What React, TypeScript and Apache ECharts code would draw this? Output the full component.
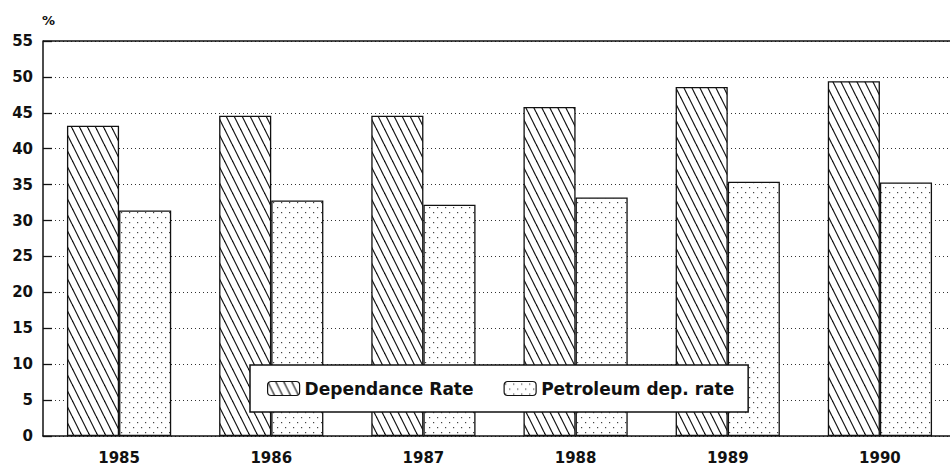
import React, { useEffect, useRef } from "react";
import * as echarts from "echarts";

const years = ["1985", "1986", "1987", "1988", "1989", "1990"];
const dependanceRate = [43.2, 44.6, 44.6, 45.8, 48.6, 49.4];
const petroleumRate = [31.4, 32.8, 32.2, 33.2, 35.4, 35.3];
const yTicks = { min: 0, max: 55, interval: 5 };
const seriesNames = ["Dependance Rate", "Petroleum dep. rate"];

function hatchCanvas(): HTMLCanvasElement {
  const s = 8, k = 2;
  const c = document.createElement("canvas");
  c.width = s;
  c.height = s * k;
  const ctx = c.getContext("2d")!;
  ctx.fillStyle = "#ffffff";
  ctx.fillRect(0, 0, c.width, c.height);
  ctx.strokeStyle = "#111111";
  ctx.lineWidth = 1.2;
  for (const off of [-s, 0, s]) {
    ctx.beginPath();
    ctx.moveTo(off, 0);
    ctx.lineTo(off + s, s * k);
    ctx.stroke();
  }
  return c;
}

function dotCanvas(): HTMLCanvasElement {
  const c = document.createElement("canvas");
  c.width = 8;
  c.height = 10;
  const ctx = c.getContext("2d")!;
  ctx.fillStyle = "#ffffff";
  ctx.fillRect(0, 0, c.width, c.height);
  ctx.fillStyle = "#444444";
  ctx.fillRect(1, 2, 1.2, 1.2);
  ctx.fillRect(5, 7, 1.2, 1.2);
  return c;
}

export default function App() {
  const ref = useRef<HTMLDivElement>(null);
  useEffect(() => {
    if (!ref.current) return;
    const chart = echarts.init(ref.current, null, { renderer: "svg" });
    const font = "DejaVu Sans";
    const hatch = { image: hatchCanvas(), repeat: "repeat" };
    const dots = { image: dotCanvas(), repeat: "repeat" };
    chart.setOption({
      animation: false,
      backgroundColor: "#ffffff",
      grid: { left: 43, right: 4, top: 41, bottom: 33, containLabel: false },
      graphic: [
        {
          type: "text",
          left: 42,
          top: 14,
          style: { text: "%", font: `bold 13px '${font}'`, fill: "#111" },
        },
        {
          type: "line",
          shape: { x1: 43, y1: 41, x2: 960, y2: 41 },
          style: { stroke: "#111", lineWidth: 1.5 },
          z: 10,
        },
      ],
      legend: {
        data: seriesNames,
        left: 250,
        top: 365,
        orient: "horizontal",
        itemWidth: 32,
        itemHeight: 14,
        itemGap: 30,
        padding: [15, 14, 15, 17],
        backgroundColor: "#ffffff",
        borderColor: "#111111",
        borderWidth: 1.5,
        borderRadius: 0,
        textStyle: { fontFamily: font, fontWeight: "bold", fontSize: 17, color: "#111" },
        itemStyle: { borderColor: "#111", borderWidth: 1.2 },
        z: 20,
      },
      xAxis: {
        type: "category",
        data: years,
        boundaryGap: true,
        axisLine: { lineStyle: { color: "#111", width: 1.5 } },
        axisTick: { show: false },
        axisLabel: {
          fontFamily: font,
          fontWeight: "bold",
          fontSize: 15,
          color: "#111",
          margin: 14,
        },
      },
      yAxis: {
        type: "value",
        min: yTicks.min,
        max: yTicks.max,
        interval: yTicks.interval,
        axisLine: { show: true, lineStyle: { color: "#111", width: 1.5 } },
        axisTick: { show: true, inside: true, length: 9, lineStyle: { color: "#111", width: 1.3 } },
        axisLabel: {
          fontFamily: font,
          fontWeight: "bold",
          fontSize: 15,
          color: "#111",
          margin: 10,
        },
        splitLine: {
          show: true,
          lineStyle: { color: "#333", width: 1, type: [1, 3] },
        },
      },
      series: [
        {
          name: seriesNames[0],
          type: "bar",
          data: dependanceRate,
          barGap: "0%",
          barCategoryGap: "31.5%",
          itemStyle: { color: hatch, borderColor: "#111", borderWidth: 1.3 },
        },
        {
          name: seriesNames[1],
          type: "bar",
          data: petroleumRate,
          itemStyle: { color: dots, borderColor: "#111", borderWidth: 1.3 },
        },
      ],
    });
    return () => chart.dispose();
  }, []);
  return (
    <div
      ref={ref}
      style={{ position: "fixed", left: 0, top: 0, width: 960, height: 469, background: "#fff" }}
    />
  );
}
